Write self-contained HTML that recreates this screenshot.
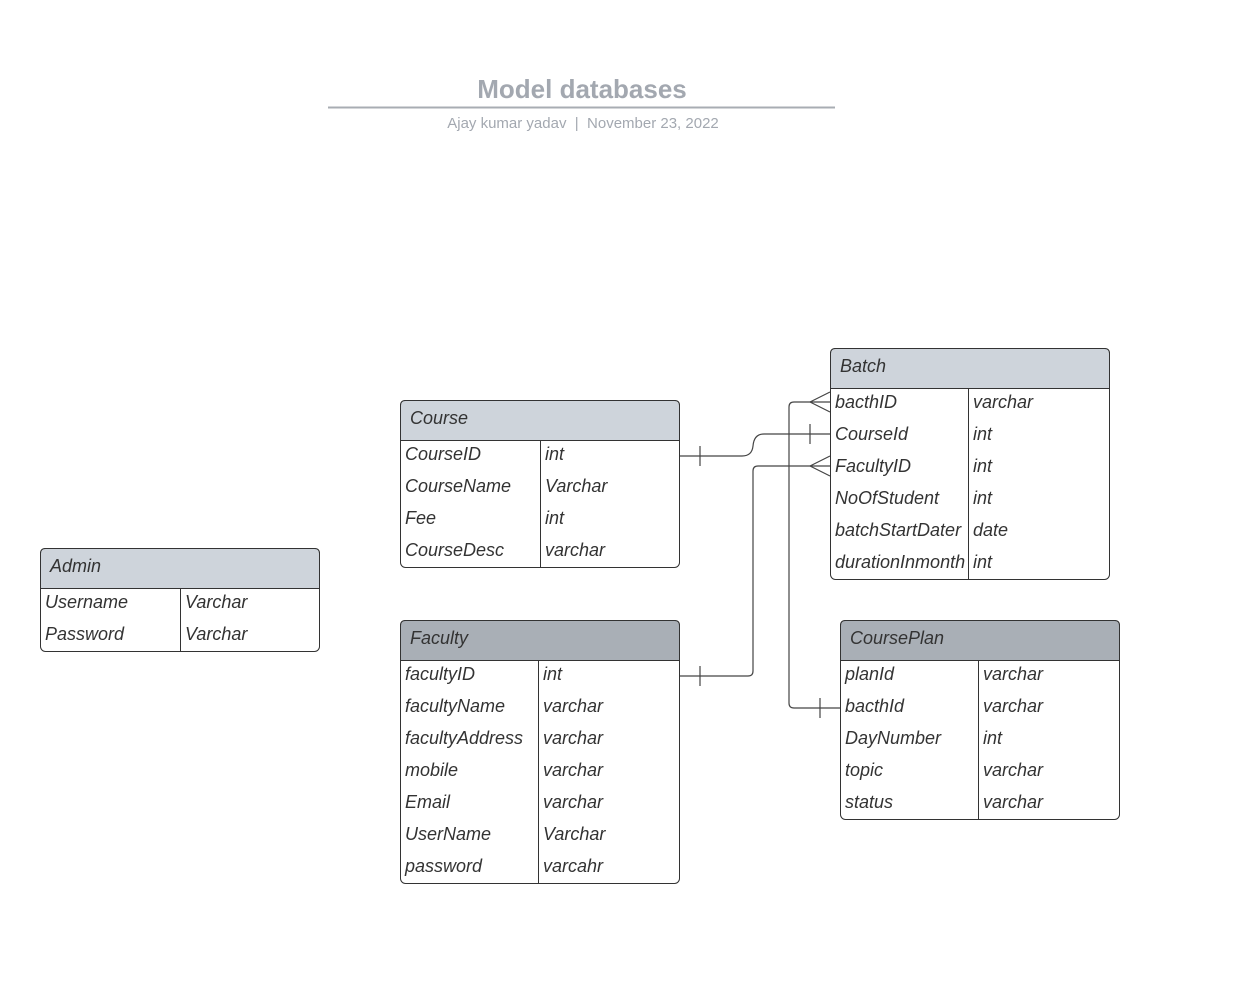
<!DOCTYPE html>
<html><head><meta charset="utf-8"><style>
html,body{margin:0;padding:0;background:#fff;}
svg{display:block;}
text{font-family:"Liberation Sans",sans-serif;}
.t{font-size:18px;font-style:italic;fill:#333;}
</style></head><body>
<svg width="1244" height="995" viewBox="0 0 1244 995" xmlns="http://www.w3.org/2000/svg">
<rect width="1244" height="995" fill="#fff"/>
<text x="582" y="98" text-anchor="middle" font-size="26" font-weight="bold" fill="#a3a8b0">Model databases</text>
<line x1="328" y1="107.5" x2="835" y2="107.5" stroke="#a8adb3" stroke-width="2"/>
<text x="583" y="128" text-anchor="middle" font-size="15" fill="#a3a8b0">Ajay kumar yadav &#160;|&#160; November 23, 2022</text>

<g fill="none" stroke="#444" stroke-width="1.2">
<path d="M680 456 H742 Q752 456 753 446 Q754 434 764 434 H830"/>
<line x1="700" y1="446" x2="700" y2="466"/>
<line x1="810" y1="424" x2="810" y2="444"/>
<path d="M680 676 H748 Q753 676 753 671 V471 Q753 466 758 466 H830"/>
<line x1="700" y1="666" x2="700" y2="686"/>
<path d="M810 466 L830 456 M810 466 L830 476"/>
<path d="M840 708 H794 Q789 708 789 703 V407 Q789 402 794 402 H830"/>
<line x1="820" y1="698" x2="820" y2="718"/>
<path d="M810 402 L830 392 M810 402 L830 412"/>
</g>

<g>
<rect x="40.5" y="548.5" width="279" height="103" rx="5" fill="#fff" stroke="#333"/>
<path d="M40.5 588.5 V553.5 Q40.5 548.5 45.5 548.5 H314.5 Q319.5 548.5 319.5 553.5 V588.5 Z" fill="#ced4db" stroke="#333"/>
<line x1="180.5" y1="588" x2="180.5" y2="652" stroke="#333"/>
<text class="t" x="50" y="572">Admin</text>
<text class="t" x="45" y="608">Username</text><text class="t" x="185" y="608">Varchar</text>
<text class="t" x="45" y="640">Password</text><text class="t" x="185" y="640">Varchar</text>
</g>

<g>
<rect x="400.5" y="400.5" width="279" height="167" rx="5" fill="#fff" stroke="#333"/>
<path d="M400.5 440.5 V405.5 Q400.5 400.5 405.5 400.5 H674.5 Q679.5 400.5 679.5 405.5 V440.5 Z" fill="#ced4db" stroke="#333"/>
<line x1="540.5" y1="440" x2="540.5" y2="568" stroke="#333"/>
<text class="t" x="410" y="424">Course</text>
<text class="t" x="405" y="460">CourseID</text><text class="t" x="545" y="460">int</text>
<text class="t" x="405" y="492">CourseName</text><text class="t" x="545" y="492">Varchar</text>
<text class="t" x="405" y="524">Fee</text><text class="t" x="545" y="524">int</text>
<text class="t" x="405" y="556">CourseDesc</text><text class="t" x="545" y="556">varchar</text>
</g>

<g>
<rect x="830.5" y="348.5" width="279" height="231" rx="5" fill="#fff" stroke="#333"/>
<path d="M830.5 388.5 V353.5 Q830.5 348.5 835.5 348.5 H1104.5 Q1109.5 348.5 1109.5 353.5 V388.5 Z" fill="#ced4db" stroke="#333"/>
<line x1="968.5" y1="388" x2="968.5" y2="580" stroke="#333"/>
<text class="t" x="840" y="372">Batch</text>
<text class="t" x="835" y="408">bacthID</text><text class="t" x="973" y="408">varchar</text>
<text class="t" x="835" y="440">CourseId</text><text class="t" x="973" y="440">int</text>
<text class="t" x="835" y="472">FacultyID</text><text class="t" x="973" y="472">int</text>
<text class="t" x="835" y="504">NoOfStudent</text><text class="t" x="973" y="504">int</text>
<text class="t" x="835" y="536">batchStartDater</text><text class="t" x="973" y="536">date</text>
<text class="t" x="835" y="568">durationInmonth</text><text class="t" x="973" y="568">int</text>
</g>

<g>
<rect x="400.5" y="620.5" width="279" height="263" rx="5" fill="#fff" stroke="#333"/>
<path d="M400.5 660.5 V625.5 Q400.5 620.5 405.5 620.5 H674.5 Q679.5 620.5 679.5 625.5 V660.5 Z" fill="#a9afb6" stroke="#333"/>
<line x1="538.5" y1="660" x2="538.5" y2="884" stroke="#333"/>
<text class="t" x="410" y="644">Faculty</text>
<text class="t" x="405" y="680">facultyID</text><text class="t" x="543" y="680">int</text>
<text class="t" x="405" y="712">facultyName</text><text class="t" x="543" y="712">varchar</text>
<text class="t" x="405" y="744">facultyAddress</text><text class="t" x="543" y="744">varchar</text>
<text class="t" x="405" y="776">mobile</text><text class="t" x="543" y="776">varchar</text>
<text class="t" x="405" y="808">Email</text><text class="t" x="543" y="808">varchar</text>
<text class="t" x="405" y="840">UserName</text><text class="t" x="543" y="840">Varchar</text>
<text class="t" x="405" y="872">password</text><text class="t" x="543" y="872">varcahr</text>
</g>

<g>
<rect x="840.5" y="620.5" width="279" height="199" rx="5" fill="#fff" stroke="#333"/>
<path d="M840.5 660.5 V625.5 Q840.5 620.5 845.5 620.5 H1114.5 Q1119.5 620.5 1119.5 625.5 V660.5 Z" fill="#a9afb6" stroke="#333"/>
<line x1="978.5" y1="660" x2="978.5" y2="820" stroke="#333"/>
<text class="t" x="850" y="644">CoursePlan</text>
<text class="t" x="845" y="680">planId</text><text class="t" x="983" y="680">varchar</text>
<text class="t" x="845" y="712">bacthId</text><text class="t" x="983" y="712">varchar</text>
<text class="t" x="845" y="744">DayNumber</text><text class="t" x="983" y="744">int</text>
<text class="t" x="845" y="776">topic</text><text class="t" x="983" y="776">varchar</text>
<text class="t" x="845" y="808">status</text><text class="t" x="983" y="808">varchar</text>
</g>
</svg>
</body></html>
